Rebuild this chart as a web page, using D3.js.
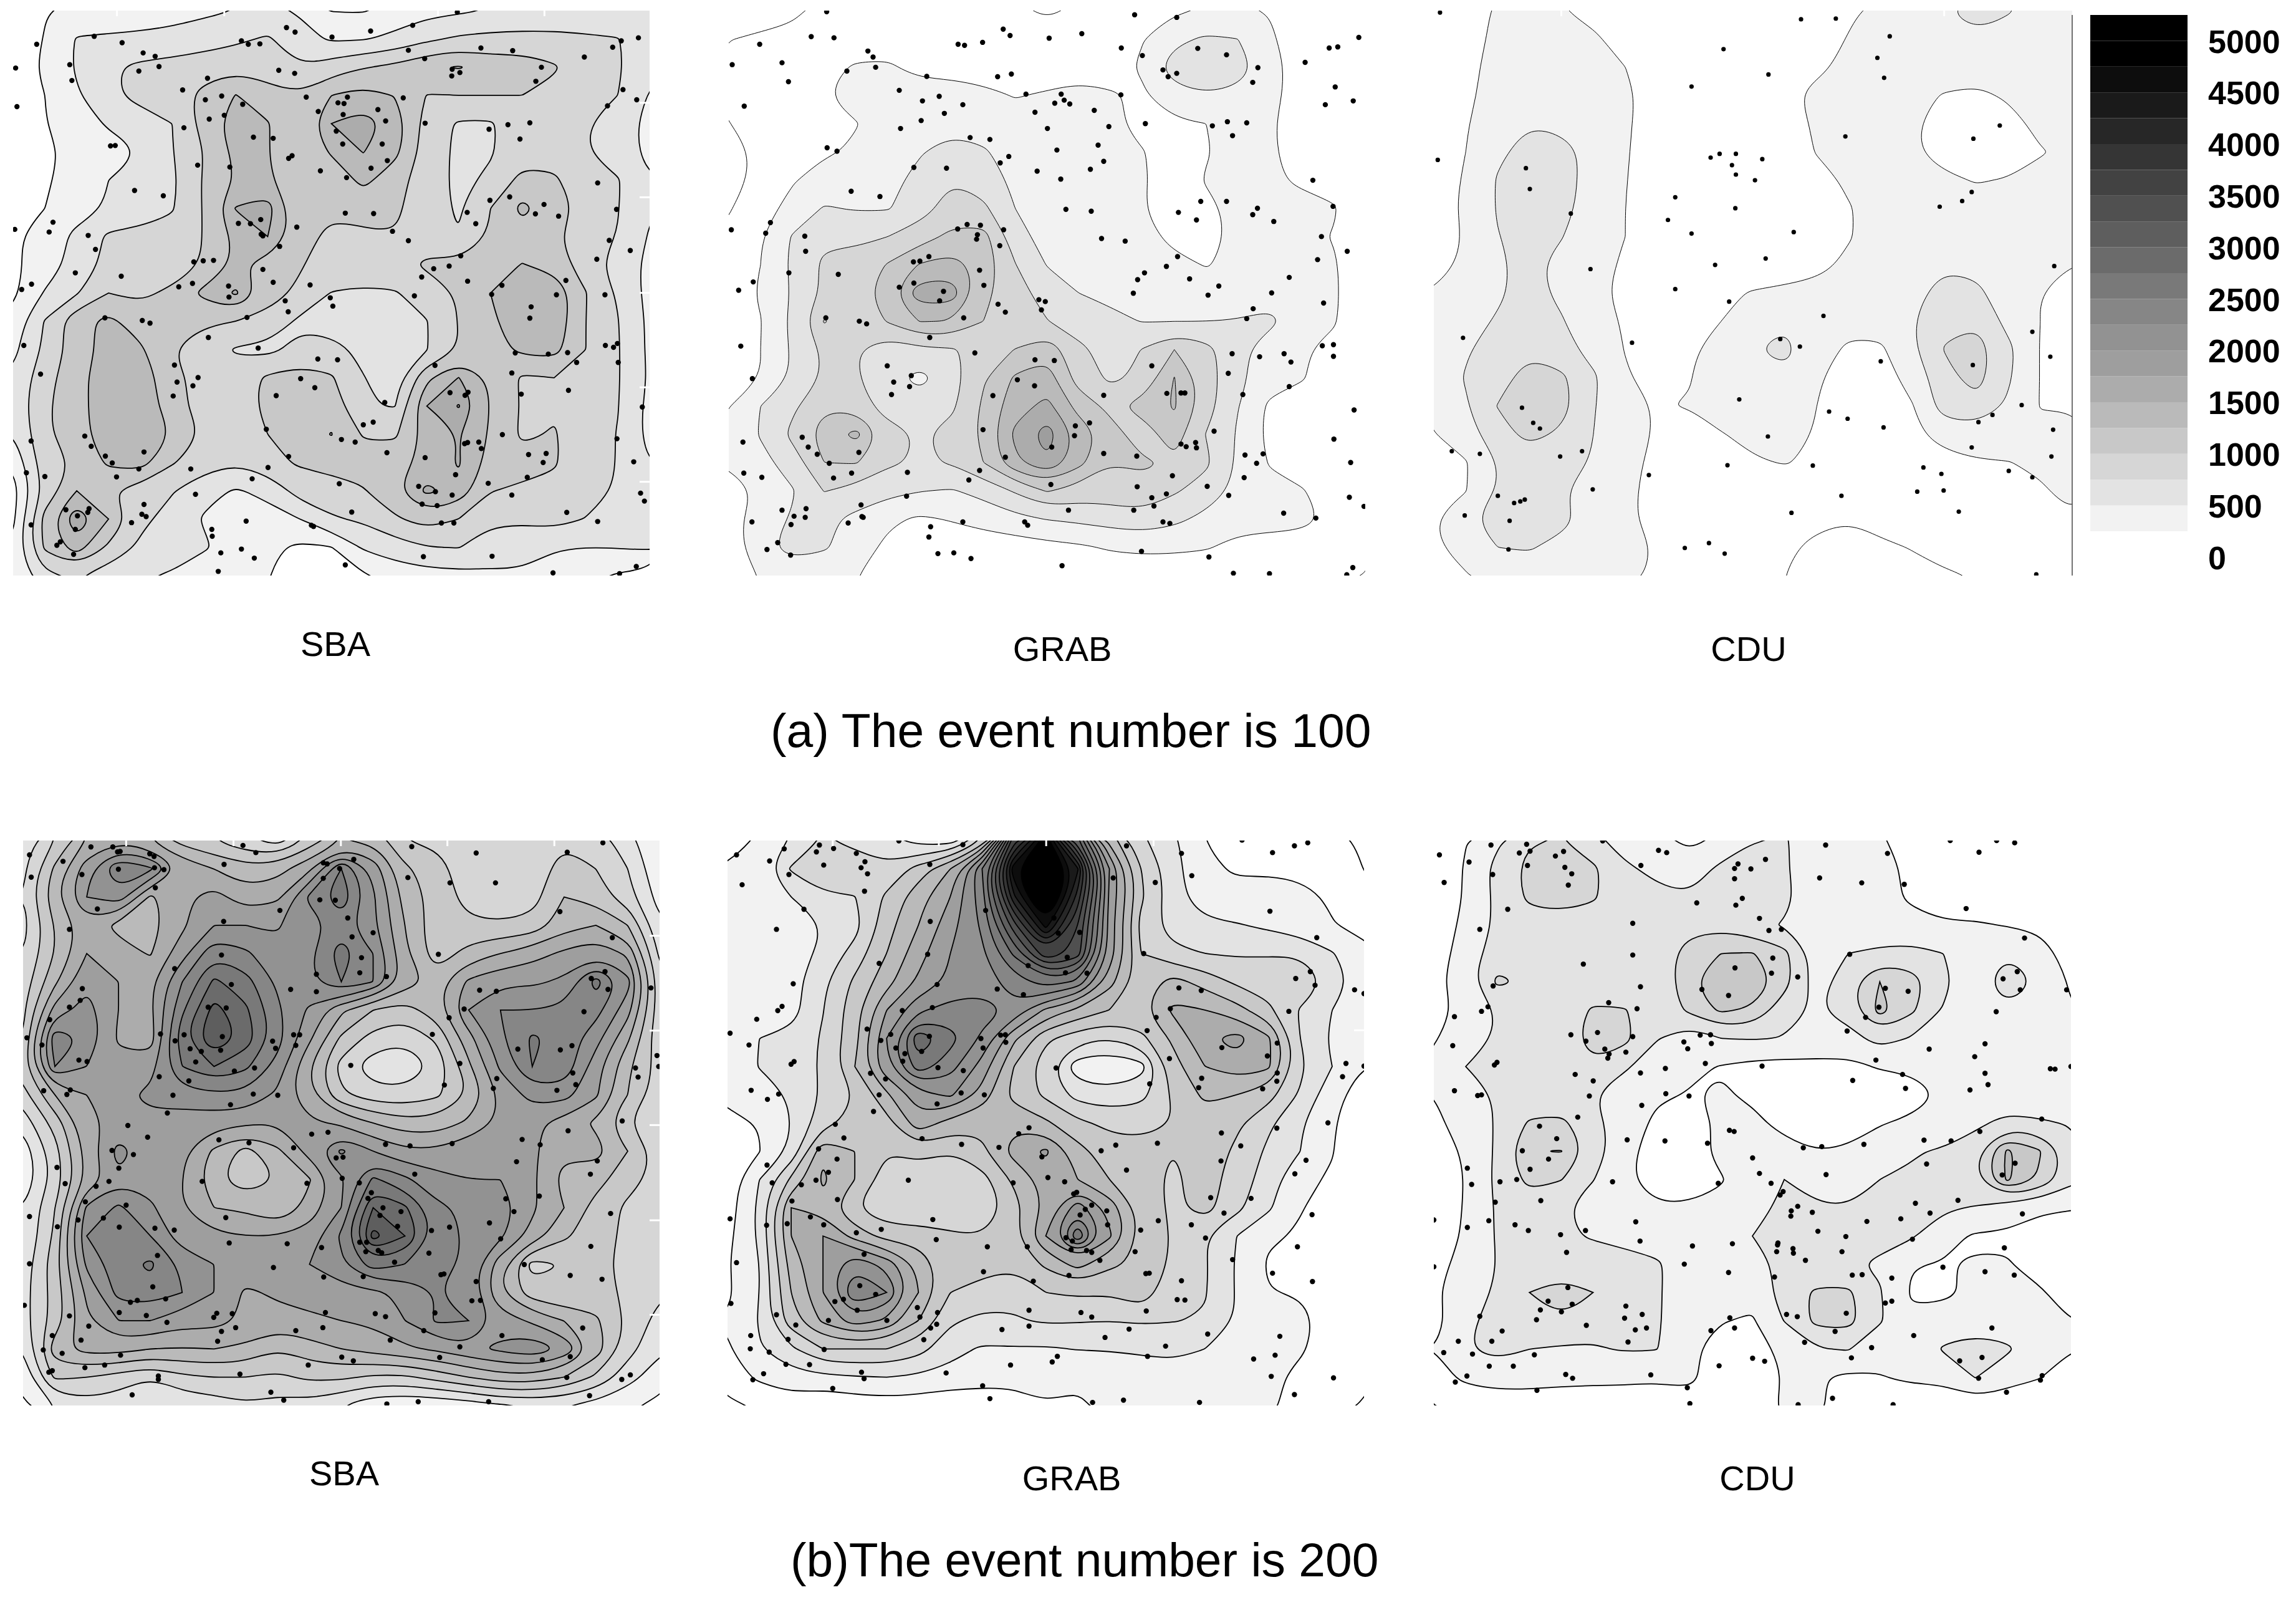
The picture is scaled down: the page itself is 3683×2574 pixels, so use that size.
<!DOCTYPE html>
<html>
<head>
<meta charset="utf-8">
<style>
  body { margin: 0; background: #fff; }
  text { font-family: "Liberation Sans", Arial, sans-serif; fill: #000; }
</style>
<script src="https://cdn.jsdelivr.net/npm/d3@7"></script>
</head>
<body>
<script>
// density levels and the grey of each band
var levels = d3.range(0, 5001, 250);
var bandColors = ["#ffffff","#f2f2f2","#e3e3e3","#d6d6d6","#c8c8c8","#bababa","#acacac","#9e9e9e","#929292","#868686","#797979","#6b6b6b","#5e5e5e","#505050","#424242","#353535","#272727","#1a1a1a","#0d0d0d","#000000","#000000"];
var legendTicks = d3.range(0, 5001, 500);

// density on a 21 x 21 lattice, top row first
var gridA1 = [
[150,240,300,320,350,400,450,500,560,470,240,230,350,420,460,510,540,560,560,560,560],
[120,260,520,540,560,580,640,700,780,600,460,480,560,700,790,820,830,820,790,760,620],
[130,290,530,720,800,840,880,930,900,760,880,980,1060,1200,1270,1150,1130,1030,820,770,640],
[130,250,470,700,830,850,1080,1260,1080,1020,1250,1350,1240,990,1000,1000,1000,930,830,750,480],
[120,240,420,520,620,750,1100,1380,1270,1030,1500,1620,1400,880,720,720,900,880,770,620,430],
[120,215,300,430,500,740,1000,1320,1260,1040,1280,1510,1320,880,700,730,880,880,760,620,440],
[110,220,350,500,600,700,1030,1260,1300,1010,1070,1320,1100,860,700,790,1080,1050,780,770,520],
[110,250,420,520,660,730,1020,1520,1620,1020,1030,1080,1050,850,720,1000,1320,1100,930,760,520],
[200,390,550,800,800,830,1010,1300,1500,1060,960,960,990,900,760,1030,1130,1040,850,740,480],
[190,390,580,830,850,870,1020,1300,1140,1020,900,860,900,1040,1060,1150,1260,1150,870,640,440],
[200,520,730,1000,950,1050,1320,1540,1080,960,740,720,730,870,1020,1250,1420,1450,1010,720,420],
[350,770,1180,1310,1130,1020,1020,1000,940,700,640,620,640,740,1010,1200,1420,1420,1000,760,450],
[430,800,1130,1340,1290,1000,920,720,680,830,830,690,640,740,1000,1150,1310,1340,1000,770,450],
[560,900,1180,1380,1420,1060,930,870,1040,1100,1030,760,640,1190,1510,1210,960,1000,880,770,470],
[580,950,1180,1370,1430,1100,880,880,1060,1120,1150,760,740,1500,1770,1240,980,970,860,760,430],
[500,960,1140,1410,1460,1240,970,880,1000,1130,1260,980,960,1350,1500,1220,950,1020,860,740,420],
[300,900,1030,1300,1360,1020,880,770,930,1030,1080,1090,1130,1340,1530,1150,1110,1020,880,740,500],
[150,820,1250,1020,880,770,560,480,550,860,900,980,1220,1560,1400,1010,950,950,880,720,520],
[200,1100,1700,1250,820,640,480,420,430,500,720,790,960,1120,1000,800,800,850,740,660,500],
[300,1050,1380,950,700,600,530,400,300,200,240,530,640,740,760,620,560,510,500,510,540],
[260,700,780,620,520,480,330,280,260,100,120,220,350,400,430,460,480,430,330,220,160]];
var gridA2 = [
[-60,-60,-30,50,90,90,90,80,70,30,-30,30,90,150,220,265,270,240,170,120,90],
[-5,20,40,100,150,150,130,120,120,110,110,120,150,240,430,540,500,280,140,100,70],
[60,70,100,200,270,280,180,170,150,150,150,150,170,280,640,720,640,320,160,110,70],
[40,90,120,240,330,360,370,350,300,240,270,320,270,220,400,480,420,300,170,110,70],
[-5,80,120,190,240,370,380,420,350,320,330,350,300,180,210,250,320,280,130,90,50],
[-50,30,120,220,280,370,480,600,540,350,340,340,310,260,160,240,300,270,190,110,70],
[-50,40,230,350,420,430,570,740,640,440,350,340,320,270,160,260,320,270,230,170,90],
[-20,150,330,520,480,480,640,860,800,500,380,360,340,260,150,220,290,280,290,270,100],
[60,230,520,700,700,750,880,1060,1100,600,400,380,360,310,200,200,290,310,300,240,100],
[100,250,550,800,840,1020,1270,1350,1150,760,490,400,380,340,300,240,290,330,340,270,120],
[100,280,520,790,850,1180,1650,1640,1060,870,620,500,440,390,370,350,380,400,370,280,110],
[160,240,560,1020,830,1020,1260,1240,1000,750,760,620,560,490,500,500,510,560,340,270,100],
[130,250,530,790,760,590,700,720,840,1010,1160,810,640,760,1000,830,570,370,270,200,60],
[140,250,530,780,770,590,420,640,970,1290,1370,880,700,800,1260,860,560,360,270,140,50],
[240,500,700,970,910,610,630,700,1040,1400,1570,1150,930,1100,1280,860,510,200,140,60,30],
[330,520,810,1120,1320,880,720,830,1050,1560,1880,1420,1100,880,1120,740,470,180,130,70,30],
[290,420,620,1000,1020,790,720,770,1000,1440,1720,1330,1000,1030,970,800,460,230,130,80,30],
[140,290,480,760,660,570,510,480,580,780,1020,890,890,950,780,640,430,320,270,130,60],
[130,400,520,550,440,300,210,270,340,430,510,550,600,640,560,430,350,340,320,190,70],
[100,430,590,530,380,190,120,60,110,120,170,210,280,310,300,270,180,150,130,110,70],
[80,270,340,310,260,130,100,80,70,70,70,60,70,70,70,70,70,70,70,60,-10]];
var gridA3 = [
[120,180,270,330,260,190,130,100,90,90,100,120,160,220,300,390,490,570,520,390,330],
[130,180,290,350,330,280,170,110,90,90,100,120,170,260,340,380,390,470,400,350,320],
[130,210,300,360,370,320,250,130,100,90,100,130,220,290,330,340,330,320,320,310,300],
[140,220,310,380,390,360,290,150,100,90,100,210,290,340,340,290,240,220,270,300,290],
[140,240,330,490,430,370,280,140,100,100,100,190,270,320,330,270,190,140,200,290,290],
[130,250,450,600,600,400,270,130,90,90,100,150,260,320,330,270,190,130,160,240,280],
[150,270,520,650,610,390,260,120,90,90,100,120,190,280,330,320,280,240,260,290,290],
[170,280,520,630,580,380,250,130,90,80,100,120,170,240,310,330,320,310,300,290,290],
[190,260,490,600,510,350,250,120,80,80,90,110,170,240,310,340,340,320,300,290,280],
[210,270,470,560,430,300,230,110,70,70,90,130,210,280,350,390,470,430,320,280,250],
[260,360,470,580,450,280,220,120,120,200,270,300,300,320,360,430,590,560,350,250,130],
[290,430,520,620,520,330,230,130,130,250,340,470,340,320,340,480,720,720,420,250,120],
[320,470,630,700,600,410,240,120,230,300,490,560,350,210,210,460,760,860,560,240,100],
[330,520,650,860,800,540,280,140,240,350,480,450,270,170,170,320,680,840,530,245,100],
[300,470,760,900,840,520,290,240,260,340,370,320,250,160,140,240,620,680,460,240,240],
[240,400,640,840,700,500,330,230,150,240,300,300,240,150,130,200,340,370,330,300,290],
[220,230,500,560,560,490,300,210,120,140,230,260,220,130,110,130,170,230,245,280,300],
[170,240,510,620,520,390,290,190,110,100,110,120,110,110,100,110,130,150,170,230,300],
[240,430,660,700,580,370,290,180,90,80,80,50,20,5,40,70,110,120,130,150,230],
[230,300,500,520,420,340,290,240,100,70,40,15,-20,-40,-20,5,30,60,80,110,150],
[170,240,330,390,350,310,280,230,110,70,40,0,-20,-30,-30,-30,-10,5,30,70,110]];
var gridB1 = [
[600,1000,1500,1700,1500,1150,1000,800,650,1100,1500,1450,1000,950,1000,900,900,950,900,600,250],
[700,1300,1900,2500,2300,1700,1500,1350,1400,1700,2500,1900,1300,1100,850,750,800,1150,1000,750,300],
[750,1450,2000,2150,1450,1700,1850,1600,1700,2300,2700,2050,1400,1150,900,780,900,1250,1150,850,400],
[650,1250,1650,1430,1400,1700,2000,2000,1980,2150,2350,2050,1500,1080,1050,1040,1080,1400,1500,1250,550],
[750,1250,1750,1600,1480,1900,2450,2300,2050,2200,2650,2250,1550,1100,1350,1500,1650,1800,1950,1700,700],
[850,1450,1950,1750,1700,2250,2800,2600,2200,2200,2500,2250,1650,1400,1800,1950,1950,2050,2600,2100,850],
[950,1850,2100,1750,1700,2450,3100,2800,2300,1950,1550,1250,1130,1400,2000,2250,2250,2300,2350,1850,850],
[1000,2450,2200,1700,1600,2700,3250,2900,2350,1800,1200,900,800,1050,1650,2200,2550,2400,2100,1550,800],
[1150,2250,2000,1850,1900,2500,2750,2550,2150,1500,900,600,560,800,1450,2050,2500,2450,1850,1300,900],
[900,1500,1750,1950,2050,2150,2200,2200,1950,1550,1050,850,830,950,1250,1800,2100,2100,1800,1250,850],
[600,1100,1700,1800,1950,1850,1850,1800,1750,1800,1700,1500,1350,1350,1550,1800,1800,1650,1450,1000,800],
[350,900,1600,2100,1850,1800,1450,1150,1450,1850,2300,2000,1800,1800,1950,1950,1800,1550,1600,1250,900],
[300,850,1550,1950,1900,1750,1320,1060,1250,1480,1950,2550,2300,2100,2000,2000,1800,1400,1350,1100,900],
[500,1000,2050,2300,2050,1750,1500,1450,1250,1600,2000,3000,2800,2300,2200,2150,1800,1500,1150,950,900],
[500,1050,2250,2450,2250,1850,1800,1750,1750,1850,2300,3350,3000,2400,2200,2050,1650,1300,1100,950,950],
[600,1150,2050,2400,2550,2200,2000,1950,1900,2000,2200,2650,2500,2350,2200,1600,900,1000,1050,950,950],
[650,1100,1800,2350,2400,2250,2000,1700,1800,1850,1900,1950,2050,2250,2200,1500,1100,1000,1100,950,800],
[650,1100,1700,2000,2000,1850,1850,1700,1650,1700,1750,1800,2000,2300,2250,1900,1700,1500,1300,950,650],
[500,1400,1600,1600,1500,1480,1500,1450,1250,1400,1500,1600,1700,1800,1950,2050,2200,1950,1400,850,550],
[350,1050,1000,900,750,950,1000,1000,950,1050,1050,950,950,1100,1250,1400,1400,1250,950,600,350],
[200,500,650,600,550,550,600,720,650,650,500,300,270,280,350,470,520,500,420,280,200]];
var gridB2 = [
[150,280,520,780,680,580,400,350,1000,3600,4900,3000,1400,800,550,250,210,150,150,60,-30],
[280,370,780,880,900,800,1100,1500,2500,4700,5600,4300,2000,1000,600,280,230,220,200,130,-5],
[280,320,500,720,740,1050,1400,1750,2400,4200,5500,3900,1950,1050,600,350,300,340,310,220,110],
[280,300,400,500,650,1150,1500,1900,2300,3400,4600,3500,1900,900,650,560,520,450,350,260,200],
[290,330,370,560,850,1250,1650,2000,2200,2800,3700,3400,1900,1000,800,750,720,730,720,520,300],
[290,380,400,700,1050,1400,1800,2050,2150,2350,2650,2450,1600,1100,1350,1150,950,900,1000,650,350],
[270,370,390,740,1150,1750,2200,2350,2350,2200,1700,1450,1250,1200,1550,1500,1350,1050,720,500,300],
[250,500,580,780,1150,2000,2950,2600,2200,1550,1050,850,750,930,1300,1700,1850,1550,750,450,280],
[260,520,640,780,1250,1950,2650,2350,1900,1250,850,350,300,400,1150,1500,1650,1550,800,500,250],
[300,280,550,780,1000,1450,1900,2050,1650,1150,950,650,580,660,1050,1300,1250,1100,720,330,130],
[200,260,500,900,1100,1150,1650,1400,1300,1450,1300,1050,950,950,1000,1150,1050,800,530,270,120],
[0,240,550,1450,1250,1000,1150,1000,1200,1600,1800,1350,1100,1050,1000,1150,950,700,500,260,100],
[100,500,1050,1550,1250,880,790,750,900,1300,1600,1500,1250,1100,950,1100,900,620,290,230,100],
[130,560,1500,1400,1000,800,800,780,760,1150,1550,2150,1650,1150,950,1100,820,540,260,180,90],
[180,550,1500,1750,1400,1150,1120,1050,1000,1200,1750,2700,1800,1150,980,760,500,280,230,140,80],
[230,500,1350,1750,2200,1900,1450,1000,1100,1050,1300,1600,1300,1200,950,780,470,220,200,130,80],
[200,500,1250,1750,2500,2250,1500,1000,900,800,1000,1050,1020,1200,760,770,480,260,230,140,90],
[280,520,1150,1550,1900,1700,1250,790,680,730,780,770,750,780,760,730,480,400,310,150,80],
[220,480,700,1000,1000,1000,850,580,470,480,470,510,520,550,560,500,420,420,280,130,70],
[120,300,400,440,480,500,460,420,330,300,330,260,270,320,400,410,330,310,190,100,40],
[-40,20,120,20,100,130,110,40,120,170,240,240,270,300,310,300,280,270,210,90,-20]];
var gridB3 = [
[100,240,450,730,760,560,400,300,210,280,480,520,400,330,270,180,120,100,100,100,90],
[100,270,590,820,880,800,540,440,350,560,720,530,330,350,300,220,130,110,110,100,90],
[90,270,560,800,840,780,600,560,520,560,720,570,320,290,270,240,160,150,130,100,90],
[100,310,550,640,650,620,610,590,690,680,560,480,330,290,280,270,270,270,240,210,80],
[150,340,640,640,560,560,570,620,830,1000,1020,820,400,500,570,600,500,320,480,350,150],
[180,390,800,700,560,500,500,520,950,1250,1250,850,380,650,1000,850,560,330,720,470,220],
[200,290,520,520,520,800,770,560,800,1050,950,600,470,620,1100,800,480,320,450,330,260],
[240,310,540,530,560,890,820,520,320,500,520,490,460,400,600,480,320,290,280,280,260],
[280,500,550,590,640,700,550,300,290,240,180,170,170,190,270,280,290,280,280,280,260],
[250,330,540,590,570,510,300,280,240,270,220,100,80,80,110,180,270,280,280,290,280],
[220,310,530,780,810,570,380,200,190,270,290,200,130,180,240,280,300,430,600,540,480],
[130,280,540,990,1010,640,310,160,200,280,480,310,250,270,340,480,530,680,1300,1030,600],
[100,260,560,820,760,510,280,170,170,240,310,500,310,320,500,530,520,720,1300,960,570],
[100,270,530,620,540,380,280,270,270,280,450,530,550,510,530,720,540,480,330,270,260],
[160,270,530,580,530,480,450,320,290,290,500,570,570,560,560,530,320,220,230,190,170],
[230,270,510,570,570,610,560,550,300,290,440,540,560,530,470,260,240,270,260,190,170],
[240,290,560,750,900,750,610,540,290,280,300,620,790,800,520,220,210,290,290,270,180],
[150,440,600,620,730,580,620,540,280,260,230,510,820,840,530,290,340,330,310,290,250],
[250,480,620,500,470,480,520,510,290,170,200,280,480,520,310,280,530,640,550,290,260],
[180,290,280,300,300,300,300,280,290,170,130,260,270,200,240,290,300,510,300,260,150],
[-5,120,210,180,150,130,120,130,180,130,130,290,280,190,110,110,120,130,170,120,60]];

// sensor dots, in the pixel units the maps were digitised in
var dotsA1 = [[1065,32],[667,73],[687,85],[863,82],[961,67],[773,98],[1487,100],[1447,108],[1427,125],[1361,151],[219,96],[284,113],[85,117],[562,108],[578,117],[605,116],[333,140],[361,149],[1194,134],[1120,127],[951,133],[36,180],[162,171],[370,176],[323,188],[167,213],[649,186],[686,194],[989,155],[1053,183],[1052,201],[1071,192],[1261,178],[1248,215],[483,207],[1451,237],[425,238],[713,257],[939,259],[1483,264],[39,282],[478,264],[516,254],[565,276],[787,272],[801,274],[809,257],[741,295],[799,303],[880,290],[1415,280],[522,305],[487,315],[898,320],[990,326],[1183,330],[1234,325],[1139,342],[428,338],[783,347],[590,363],[636,366],[1211,368],[798,381],[890,381],[257,386],[268,385],[680,412],[672,419],[902,425],[460,437],[535,442],[864,445],[746,452],[807,470],[1392,484],[313,504],[380,518],[1187,521],[1141,530],[1267,541],[1436,554],[1088,562],[804,564],[870,565],[1247,566],[1301,572],[607,581],[555,591],[583,592],[1108,592],[123,588],[691,601],[34,607],[114,614],[914,612],[205,623],[608,620],[612,624],[951,637],[1419,636],[651,652],[222,660],[1468,663],[1073,677],[1390,686],[451,693],[473,690],[497,689],[1046,704],[1010,711],[612,713],[175,722],[282,731],[982,733],[1318,742],[636,747],[1089,744],[448,750],[73,752],[722,754],[532,757],[416,759],[50,766],[769,788],[1169,755],[1145,779],[1296,780],[1409,780],[965,783],[533,786],[664,796],[775,810],[1237,812],[671,825],[1234,842],[575,840],[244,841],[331,848],[349,855],[485,893],[55,914],[1410,914],[1429,919],[1438,909],[601,921],[1200,934],[1277,937],[1322,933],[740,950],[786,952],[1343,959],[1440,959],[406,966],[1013,967],[94,990],[1192,987],[461,999],[700,1002],[412,1011],[449,1021],[733,1026],[1324,1033],[1048,1039],[1090,1038],[1083,1046],[643,1047],[403,1048],[1214,1043],[896,1065],[1496,1077],[869,1117],[846,1124],[620,1136],[197,1154],[1170,1150],[795,1163],[1437,1161],[72,1167],[827,1170],[1115,1170],[1082,1174],[1089,1171],[212,1181],[1121,1187],[335,1196],[901,1198],[1272,1200],[1231,1203],[672,1208],[245,1207],[990,1211],[261,1225],[1265,1224],[1476,1222],[624,1237],[323,1241],[444,1241],[61,1251],[1061,1256],[104,1261],[1228,1263],[271,1262],[587,1267],[790,1280],[1137,1279],[975,1287],[1014,1301],[1053,1310],[1492,1305],[455,1308],[1192,1310],[1501,1326],[335,1335],[983,1334],[1018,1338],[153,1349],[207,1346],[204,1356],[180,1365],[330,1361],[340,1367],[819,1355],[1320,1356],[306,1383],[573,1379],[1392,1380],[1028,1384],[1057,1384],[72,1389],[493,1401],[725,1390],[730,1393],[175,1401],[494,1419],[140,1434],[132,1443],[562,1453],[514,1463],[171,1467],[592,1477],[986,1473],[1146,1472],[804,1495],[1482,1499],[508,1512],[1288,1516],[1443,1518]];
var dotsA2 = [[256,31],[973,39],[1071,46],[667,77],[683,94],[850,89],[220,97],[273,100],[774,101],[1495,99],[100,117],[562,117],[577,120],[619,112],[1426,127],[1446,124],[942,127],[1120,128],[352,135],[364,151],[991,147],[1187,145],[152,166],[36,171],[1370,165],[370,178],[303,188],[1260,179],[1039,185],[1071,194],[1051,203],[489,202],[654,203],[686,196],[167,216],[1248,218],[1440,230],[425,239],[720,249],[802,249],[941,251],[809,265],[518,255],[479,267],[787,273],[822,275],[573,277],[1417,277],[1482,267],[64,281],[879,292],[741,297],[530,300],[476,319],[998,327],[1189,322],[1234,325],[1154,333],[913,335],[428,340],[770,340],[1201,359],[590,364],[636,369],[888,384],[257,391],[280,400],[792,397],[680,414],[660,431],[901,427],[459,443],[535,445],[870,448],[746,453],[801,474],[1388,477],[313,506],[380,520],[1127,533],[1187,533],[1259,551],[813,554],[872,559],[1075,562],[1248,568],[1117,582],[1297,586],[1435,546],[125,589],[583,594],[614,596],[561,606],[668,608],[34,608],[114,617],[607,621],[205,625],[605,633],[896,631],[951,638],[1408,626],[659,650],[207,665],[1468,665],[1073,679],[494,679],[473,691],[458,693],[1399,687],[1047,705],[612,715],[996,722],[168,722],[283,726],[1333,734],[980,740],[1101,738],[85,746],[622,755],[425,760],[459,749],[1169,757],[51,768],[528,771],[970,776],[1144,781],[1292,775],[519,796],[750,793],[765,798],[1413,802],[655,805],[756,820],[672,826],[1249,817],[254,841],[1234,843],[332,850],[349,857],[575,841],[496,893],[56,916],[1410,915],[1436,912],[601,934],[1200,936],[1264,944],[1321,936],[1436,943],[741,952],[786,954],[1337,958],[397,968],[1013,968],[1191,988],[453,994],[83,1002],[700,1005],[412,1011],[449,1023],[740,1021],[1333,1023],[407,1044],[643,1047],[1048,1041],[1081,1040],[1090,1040],[901,1046],[1225,1044],[1484,1085],[868,1119],[835,1127],[620,1137],[1158,1141],[833,1153],[199,1157],[1437,1162],[61,1170],[1081,1175],[1115,1171],[1093,1182],[1117,1185],[780,1183],[213,1183],[331,1197],[901,1200],[1272,1201],[234,1202],[1230,1204],[978,1207],[672,1210],[262,1226],[1257,1226],[1476,1224],[612,1245],[444,1250],[63,1252],[314,1252],[272,1265],[105,1263],[1061,1259],[1228,1264],[587,1270],[778,1282],[1142,1287],[979,1288],[1047,1307],[1192,1311],[442,1313],[1013,1317],[1473,1316],[1507,1340],[336,1336],[1018,1339],[152,1350],[208,1346],[206,1369],[180,1366],[338,1367],[341,1369],[971,1350],[819,1350],[1320,1358],[1395,1371],[173,1388],[82,1381],[306,1384],[573,1381],[717,1381],[724,1390],[1039,1381],[1055,1385],[498,1394],[494,1421],[142,1436],[117,1454],[172,1469],[552,1463],[515,1465],[592,1478],[989,1459],[1146,1474],[804,1497],[1481,1502],[1203,1517],[1287,1518],[1467,1521]];
var dotsA3 = [[44,33],[687,51],[749,49],[845,96],[549,130],[823,153],[629,197],[835,206],[492,229],[766,361],[1041,332],[994,367],[40,423],[197,445],[526,417],[542,407],[571,407],[618,421],[564,437],[571,462],[605,477],[204,500],[991,508],[974,532],[934,547],[463,522],[570,551],[277,565],[450,582],[492,618],[674,614],[624,684],[534,701],[312,712],[1138,704],[463,765],[559,798],[727,836],[1099,878],[85,894],[386,907],[650,897],[685,917],[1131,944],[829,956],[993,966],[577,1057],[1080,1072],[190,1079],[737,1089],[1028,1098],[770,1108],[1003,1117],[210,1119],[222,1134],[834,1131],[1136,1137],[628,1155],[991,1184],[65,1194],[297,1194],[115,1201],[258,1208],[1133,1208],[556,1231],[708,1232],[905,1237],[937,1254],[1057,1246],[1099,1263],[416,1257],[316,1295],[941,1298],[894,1301],[759,1312],[147,1312],[195,1322],[187,1327],[176,1331],[670,1357],[968,1354],[88,1364],[168,1378],[523,1437],[480,1450],[551,1465],[166,1454],[1106,1520]];
var dotsB1 = [[183,47],[234,47],[245,60],[251,59],[537,43],[567,62],[930,46],[1080,63],[1292,61],[1375,36],[40,68],[320,65],[330,72],[118,85],[493,93],[724,89],[733,92],[795,80],[247,106],[331,102],[353,107],[762,104],[162,120],[724,130],[44,127],[921,128],[1019,142],[1125,142],[333,155],[716,187],[752,188],[198,211],[623,215],[1275,218],[781,235],[492,244],[133,265],[840,274],[791,285],[1397,287],[992,331],[487,333],[813,340],[378,369],[1380,377],[708,384],[809,380],[871,390],[1348,395],[510,411],[163,422],[648,424],[708,430],[1088,426],[1127,429],[1387,424],[1487,420],[158,453],[133,471],[456,471],[498,473],[1052,476],[1331,483],[87,504],[1017,499],[345,542],[978,543],[655,544],[669,544],[489,549],[400,544],[34,552],[606,561],[379,560],[660,572],[69,571],[1303,573],[1177,582],[1276,584],[414,581],[440,588],[485,585],[613,580],[1501,599],[155,611],[174,615],[427,616],[788,625],[1042,620],[1505,628],[1451,632],[517,640],[564,632],[1305,645],[342,655],[1457,656],[1128,660],[411,666],[1006,677],[1312,676],[73,692],[135,690],[1120,686],[1268,691],[127,702],[374,704],[561,701],[618,704],[508,729],[361,751],[1420,772],[269,784],[735,802],[1294,798],[697,807],[315,815],[481,822],[551,830],[1187,821],[869,834],[926,838],[1024,832],[1229,835],[232,850],[655,843],[754,870],[282,861],[770,868],[1362,878],[1174,880],[104,895],[248,897],[1346,913],[937,913],[768,924],[442,932],[225,932],[686,937],[808,936],[123,938],[195,945],[836,962],[1227,971],[828,977],[1149,978],[170,986],[265,995],[863,1002],[1168,1012],[40,1025],[856,1022],[905,1012],[1393,1017],[212,1029],[497,1028],[153,1034],[1111,1042],[897,1051],[105,1052],[249,1053],[332,1056],[1018,1053],[377,1061],[976,1062],[1137,1084],[505,1095],[640,1097],[825,1093],[809,1093],[1347,1104],[720,1107],[852,1115],[860,1121],[823,1118],[970,1122],[338,1128],[40,1150],[890,1146],[1192,1152],[608,1160],[998,1179],[1005,1177],[1299,1181],[725,1185],[817,1184],[1373,1191],[1080,1197],[327,1211],[1090,1247],[1070,1248],[291,1247],[357,1243],[275,1252],[28,1260],[133,1288],[249,1279],[312,1287],[729,1279],[984,1280],[845,1282],[512,1282],[476,1281],[469,1292],[869,1290],[360,1305],[178,1315],[520,1319],[723,1319],[487,1329],[660,1327],[958,1327],[1328,1320],[93,1340],[1140,1340],[160,1352],[478,1355],[880,1352],[1042,1370],[72,1378],[116,1387],[252,1392],[767,1397],[1299,1396],[995,1398],[1234,1404],[794,1407],[215,1418],[689,1418],[169,1425],[93,1433],[85,1437],[530,1442],[340,1447],[340,1456],[1439,1444],[1419,1456],[1291,1451],[279,1497],[602,1490],[632,1511],[1344,1499],[872,1521],[945,1515],[1109,1515]];
var dotsB2 = [[424,31],[1223,29],[1376,36],[157,52],[239,42],[272,51],[573,41],[954,44],[232,60],[325,64],[46,68],[1082,64],[1294,62],[1345,44],[345,86],[123,84],[249,95],[496,93],[336,102],[351,118],[168,120],[1106,123],[923,129],[59,147],[1021,141],[344,164],[203,212],[626,215],[1288,217],[785,235],[497,244],[139,265],[845,273],[795,275],[1397,287],[491,331],[994,329],[816,339],[378,355],[725,361],[1382,377],[812,380],[862,381],[1348,395],[178,409],[1393,413],[513,411],[653,423],[714,438],[1076,420],[1128,427],[1485,425],[1507,435],[152,469],[142,480],[502,472],[1056,475],[432,480],[1332,482],[93,503],[1023,498],[350,529],[31,540],[1002,533],[405,543],[495,548],[661,545],[672,544],[382,559],[615,554],[673,564],[1305,566],[75,571],[417,579],[438,594],[620,579],[477,588],[1176,578],[1282,600],[180,615],[173,622],[1054,607],[433,614],[1465,620],[1507,627],[515,631],[574,639],[790,632],[1305,645],[358,646],[1457,655],[1129,659],[393,661],[1008,674],[80,691],[1122,684],[1271,687],[1304,667],[144,701],[118,715],[378,703],[623,703],[569,698],[513,727],[365,747],[1423,777],[276,781],[727,790],[703,806],[1175,804],[296,817],[478,819],[570,834],[1304,791],[1220,838],[237,846],[657,842],[929,836],[895,851],[1026,831],[757,867],[280,873],[1174,878],[117,889],[1372,876],[954,902],[260,908],[1346,912],[771,922],[129,936],[231,929],[197,941],[446,929],[690,936],[810,933],[831,965],[838,961],[1150,975],[1244,977],[281,980],[175,984],[873,995],[858,1006],[908,1010],[1181,1016],[218,1026],[846,1021],[31,1031],[1386,1020],[503,1033],[1028,1036],[164,1044],[249,1047],[116,1048],[1105,1047],[910,1047],[383,1059],[987,1061],[325,1068],[813,1081],[1138,1082],[511,1086],[828,1090],[723,1105],[630,1105],[1352,1105],[825,1113],[861,1115],[873,1120],[974,1118],[343,1125],[892,1141],[46,1147],[1201,1139],[621,1171],[999,1176],[1007,1175],[1294,1175],[820,1181],[737,1196],[1082,1195],[1387,1197],[333,1208],[370,1231],[1072,1245],[1090,1246],[275,1250],[295,1244],[33,1255],[467,1266],[327,1273],[514,1279],[727,1273],[848,1279],[139,1285],[1000,1275],[473,1291],[873,1291],[260,1300],[396,1300],[512,1310],[184,1312],[498,1320],[727,1315],[664,1324],[960,1323],[79,1340],[1143,1336],[1311,1342],[482,1351],[166,1350],[904,1345],[1045,1368],[78,1375],[122,1384],[250,1377],[1003,1395],[793,1395],[1300,1392],[781,1410],[1250,1402],[161,1416],[216,1417],[684,1418],[109,1441],[534,1439],[337,1437],[343,1454],[84,1457],[1291,1448],[1436,1452],[270,1480],[619,1473],[636,1507],[1345,1496],[875,1517],[947,1511],[1124,1517]];
var dotsB3 = [[177,42],[260,40],[1246,30],[1354,30],[1396,36],[437,31],[956,42],[57,68],[243,63],[268,58],[346,59],[327,71],[567,56],[586,62],[1100,64],[1313,61],[816,80],[126,87],[752,92],[262,96],[526,96],[349,101],[744,104],[782,105],[181,120],[365,118],[744,131],[942,129],[357,148],[68,141],[1040,142],[1139,146],[762,183],[656,195],[747,201],[216,212],[1283,210],[802,236],[507,249],[151,265],[853,265],[824,268],[1419,288],[1012,331],[507,333],[833,341],[392,357],[745,367],[1402,377],[830,381],[891,391],[1369,396],[182,415],[525,417],[1095,421],[668,424],[1148,429],[1409,425],[1517,425],[730,440],[451,459],[170,470],[517,475],[1080,471],[155,482],[1353,483],[92,496],[1049,498],[425,538],[1006,534],[363,544],[507,549],[664,545],[688,544],[398,561],[626,563],[690,567],[1327,568],[442,582],[88,573],[635,581],[491,590],[1197,582],[1303,602],[452,595],[449,606],[191,617],[185,624],[1073,611],[808,627],[676,620],[583,633],[1527,628],[1479,634],[1490,635],[525,645],[373,649],[1135,649],[1327,646],[415,666],[1019,665],[1334,676],[1142,686],[1292,690],[92,692],[146,705],[155,703],[584,700],[406,706],[638,706],[528,731],[379,762],[1459,767],[290,786],[732,797],[743,800],[1315,800],[330,819],[494,822],[582,825],[1185,823],[1248,825],[681,831],[904,843],[947,840],[1045,834],[250,851],[311,873],[786,870],[1191,886],[1397,884],[122,897],[268,900],[802,911],[1367,915],[957,914],[237,927],[198,933],[460,933],[706,937],[132,940],[829,937],[857,959],[850,968],[1264,982],[293,983],[187,987],[891,998],[1165,990],[876,1010],[875,1024],[925,1014],[1199,1016],[1414,1018],[44,1034],[1131,1031],[172,1036],[514,1039],[1052,1038],[233,1047],[122,1054],[264,1062],[397,1062],[938,1064],[339,1073],[1003,1078],[1158,1085],[845,1095],[844,1100],[524,1090],[646,1103],[739,1097],[842,1118],[880,1110],[881,1122],[994,1118],[1372,1108],[353,1120],[909,1141],[627,1151],[1229,1159],[730,1173],[1327,1171],[44,1158],[1018,1180],[1041,1179],[837,1185],[1110,1188],[1395,1180],[356,1213],[310,1249],[366,1257],[1110,1249],[1095,1254],[292,1272],[341,1277],[491,1262],[1004,1281],[529,1284],[865,1284],[890,1290],[151,1289],[488,1294],[283,1298],[733,1293],[399,1313],[513,1325],[539,1320],[744,1320],[978,1329],[1343,1320],[689,1327],[203,1328],[1161,1340],[101,1355],[179,1355],[496,1357],[907,1358],[1063,1372],[67,1385],[134,1389],[278,1391],[786,1400],[1016,1399],[1320,1398],[1268,1407],[814,1408],[173,1421],[229,1421],[708,1420],[121,1447],[351,1443],[367,1453],[549,1444],[1460,1446],[1456,1458],[1312,1453],[94,1463],[634,1478],[284,1485],[1377,1490],[640,1520],[972,1506],[892,1523],[1113,1523]];

// leftover white axis ticks on the maps, same units as the dots
var topTicks = [[272,522,1020,1268],[],[260,942],[265,515,765,1013,1262],[270,517,767,1017],[]];
var rightTicks = [[272,522,775,1025,1275],[],[],[282,533,783,1035,1285],[532],[]];

var labels = ["SBA","GRAB","CDU"];
var captionA = "(a) The event number is 100";
var captionB = "(b)The event number is 200";

// where each map sits on the page and which units it was digitised in
var panels = [
  {grid:gridA1, dots:dotsA1, x:[21,1042],   y:[17,923],    dx:[30,1513], dy:[28,1523], sw:1.8, r:4.2},
  {grid:gridA2, dots:dotsA2, x:[1169,2190], y:[17,923],    dx:[28,1510], dy:[28,1523], sw:1,   r:4.2},
  {grid:gridA3, dots:dotsA3, x:[2300,3324], y:[17,923],    dx:[33,1170], dy:[28,1523], sw:1,   r:3.6},
  {grid:gridB1, dots:dotsB1, x:[37,1058],   y:[1348,2254], dx:[25,1507], dy:[30,1525], sw:1.8, r:4.2},
  {grid:gridB2, dots:dotsB2, x:[1167,2188], y:[1348,2254], dx:[25,1507], dy:[30,1525], sw:1.8, r:4.2},
  {grid:gridB3, dots:dotsB3, x:[2300,3322], y:[1348,2254], dx:[44,1527], dy:[30,1525], sw:1.8, r:4.2}
];

var svg = d3.select("body").append("svg")
            .attr("width",3683).attr("height",2574)
            .style("display","block");

var fillOf = d3.scaleOrdinal().domain(levels).range(bandColors);
var ringLine = d3.line().curve(d3.curveBasisClosed);

panels.forEach(function(p, k){
    var n = p.grid.length, m = p.grid[0].length;
    var values = p.grid.flat();
    // lattice nodes sit half a unit in, so the panel edge falls on the first and last node
    var gx = d3.scaleLinear().domain([0.5, m-0.5]).range(p.x);
    var gy = d3.scaleLinear().domain([0.5, n-0.5]).range(p.y);
    var px = d3.scaleLinear().domain(p.dx).range(p.x);
    var py = d3.scaleLinear().domain(p.dy).range(p.y);

    svg.append("clipPath").attr("id","clip"+k)
        .append("rect").attr("x",p.x[0]).attr("y",p.y[0])
        .attr("width",p.x[1]-p.x[0]).attr("height",p.y[1]-p.y[0]);

    var g = svg.append("g").attr("clip-path","url(#clip"+k+")");
    var shapes = d3.contours().size([m,n]).thresholds(levels)(values);

    g.selectAll("path").data(shapes).enter().append("path")
        .attr("d", function(d){
            var out = "";
            d.coordinates.forEach(function(poly){
                poly.forEach(function(ring){
                    var pts = ring.slice(0,-1).map(function(c){return [gx(c[0]), gy(c[1])];});
                    if (pts.length > 2) out += ringLine(pts);
                });
            });
            return out;
        })
        .attr("fill", function(d){return fillOf(d.value);})
        .attr("fill-rule","evenodd")
        .attr("stroke","#000")
        .attr("stroke-width",p.sw);

    g.selectAll("circle").data(p.dots).enter().append("circle")
        .attr("cx", function(d){return px(d[0]);})
        .attr("cy", function(d){return py(d[1]);})
        .attr("r", p.r)
        .attr("fill","#000");

    g.selectAll("line.top").data(topTicks[k]).enter().append("line")
        .attr("x1",function(d){return px(d);}).attr("x2",function(d){return px(d);})
        .attr("y1",p.y[0]).attr("y2",p.y[0]+9)
        .attr("stroke","#fff").attr("stroke-width",3);
    g.selectAll("line.right").data(rightTicks[k]).enter().append("line")
        .attr("y1",function(d){return py(d);}).attr("y2",function(d){return py(d);})
        .attr("x1",p.x[1]-16).attr("x2",p.x[1])
        .attr("stroke","#fff").attr("stroke-width",3);
});

// colour bar
var legendY = d3.scaleLinear().domain([250,5250]).range([852,24]);
svg.append("g").selectAll("rect").data(levels.slice(1)).enter().append("rect")
    .attr("x",3353).attr("width",156)
    .attr("y", function(d){return legendY(d+250);})
    .attr("height", function(d){return legendY(d)-legendY(d+250);})
    .attr("fill", function(d){return fillOf(d);});

var legendAxis = svg.append("g").attr("transform","translate(3509,0)")
    .call(d3.axisRight(legendY).tickValues(legendTicks).tickFormat(d3.format("d")).tickSize(0).tickPadding(33));
legendAxis.select(".domain").remove();
legendAxis.selectAll("text")
    .attr("dy","0.36em")
    .style("font-family","'Liberation Sans'")
    .style("font-weight","700")
    .style("font-size","52px")
    .attr("fill","#000");

// line on the right of the last map in the top row
svg.append("line").attr("x1",3324).attr("x2",3324).attr("y1",24).attr("y2",923)
    .attr("stroke","#444").attr("stroke-width",1.5);

var labelPos = [[538,1052],[1704,1060],[2805,1060],[552,2382],[1719,2390],[2819,2390]];
svg.append("g").selectAll("text").data(labelPos).enter().append("text")
    .text(function(d,i){return labels[i%3];})
    .attr("x",function(d){return d[0];})
    .attr("y",function(d){return d[1];})
    .attr("text-anchor","middle")
    .style("font-size","56px");

svg.append("text").text(captionA).attr("x",1236).attr("y",1198).style("font-size","76.8px");
svg.append("text").text(captionB).attr("x",1268).attr("y",2528).style("font-size","76.8px");
</script>
</body>
</html>
